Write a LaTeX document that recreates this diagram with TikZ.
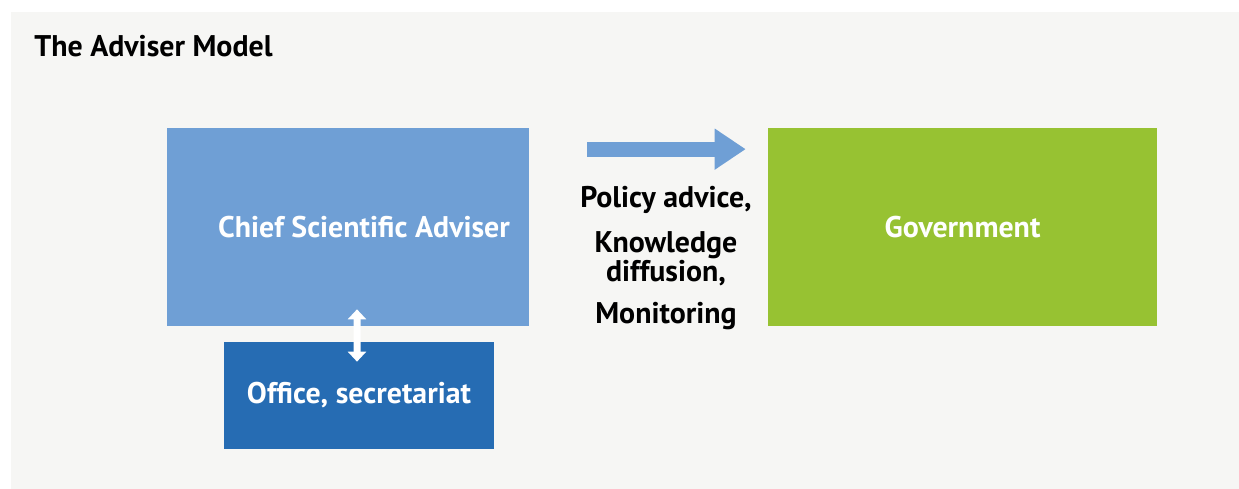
\documentclass[tikz,border=0pt]{standalone}
\usepackage{fontspec}
\setmainfont{PT Sans}
\usetikzlibrary{arrows.meta,calc}
\definecolor{panelgray}{HTML}{F6F6F4}
\definecolor{csablue}{HTML}{6F9FD5}
\definecolor{officeblue}{HTML}{266CB3}
\definecolor{govgreen}{HTML}{97C232}

\begin{document}
\begin{tikzpicture}[x=0.02cm,y=-0.02cm,
    box/.style={inner sep=0pt,text=white,font=\fontsize{17}{20}\selectfont\bfseries},
    flow/.style={csablue,line width=0.3cm,-{Triangle[length=0.62cm,width=0.78cm]}},
    link/.style={white,line width=0.14cm,{Triangle[length=0.2cm,width=0.36cm]}-{Triangle[length=0.2cm,width=0.36cm]}}]
    \useasboundingbox (0,0) rectangle (1239,489);
    \fill[panelgray] (11,12) rectangle (1239,489);
    \node[anchor=base west,inner sep=0pt,font=\fontsize{17}{20}\selectfont\bfseries] (title) at (34,57) {The Adviser Model};
    % the three boxes
    \node[box,fill=csablue,minimum width=7.24cm,minimum height=3.96cm] (csa) at (348,227) {\hspace*{0.64cm}Chief Scientific Adviser};
    \node[box,fill=officeblue,minimum width=5.4cm,minimum height=2.14cm] (office) at (359,395.5) {Office, secretariat};
    \node[box,fill=govgreen,minimum width=7.78cm,minimum height=3.96cm] (gov) at (962.5,227) {Government};
    \node[align=center,inner sep=0pt,font=\fontsize{17}{14.7}\selectfont\bfseries] (roles) at (666,258)
        {Policy advice,\\[0.32cm] Knowledge\\ diffusion,\\[0.32cm] Monitoring};
    % arrows
    \draw[flow] ([xshift=1.16cm,yshift=-0.43cm]csa.north east) -- ([xshift=-0.44cm,yshift=-0.43cm]gov.north west);
    \draw[link] ([xshift=0.18cm,yshift=0.34cm]csa.south) -- ([xshift=-0.04cm,yshift=-0.4cm]office.north);
\end{tikzpicture}
\end{document}
